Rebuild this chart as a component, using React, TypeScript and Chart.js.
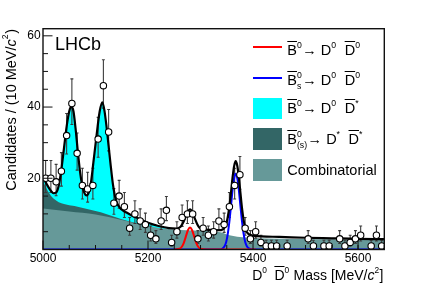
import React, { useEffect, useRef } from 'react';
import { Chart, registerables } from 'chart.js';
Chart.register(...registerables);

const FONT = "'Liberation Sans', Arial, Helvetica, sans-serif";

// ---- binned data (10 MeV bins) ----
const binMass = [5005, 5015, 5025, 5035, 5045, 5055, 5065, 5075, 5085, 5095, 5105, 5115, 5125, 5135, 5145, 5155, 5165, 5175, 5185, 5195, 5205, 5215, 5225, 5235, 5245, 5255, 5265, 5275, 5285, 5295, 5305, 5315, 5325, 5335, 5345, 5355, 5365, 5375, 5385, 5395, 5405, 5415, 5425, 5435, 5445, 5465, 5505, 5515, 5535, 5545, 5565, 5575, 5585, 5595, 5605, 5625, 5635, 5645];
const binCount = [20, 20, 19, 22, 32, 41, 27, 18, 17, 18, 31, 46, 33, 13, 15, 12, 6, 10, 8, 7, 4, 3, 8, 11, 2, 5, 9, 10, 10, 3, 6, 4, 5, 8, 7, 12, 18, 21, 6, 3, 5, 2, 1, 1, 1, 1, 3, 1, 1, 1, 3, 1, 2, 3, 4, 1, 4, 1];
const errLow = [4.0, 4.0, 3.9, 4.2, 5.2, 5.9, 4.7, 3.8, 3.7, 3.8, 5.1, 6.3, 5.3, 3.1, 3.4, 3.0, 2.0, 2.7, 2.4, 2.2, 1.6, 1.3, 2.4, 2.9, 1.0, 1.8, 2.5, 2.7, 2.7, 1.3, 2.0, 1.6, 1.8, 2.4, 2.2, 3.0, 3.8, 4.1, 2.0, 1.3, 1.8, 1.0, 0.6, 0.6, 0.6, 0.6, 1.3, 0.6, 0.6, 0.6, 1.3, 0.6, 1.0, 1.3, 1.6, 0.6, 1.6, 0.6];
const errHigh = [5.0, 5.0, 4.9, 5.2, 6.2, 6.9, 5.7, 4.8, 4.7, 4.8, 6.1, 7.3, 6.3, 4.1, 4.4, 4.0, 3.0, 3.7, 3.4, 3.2, 2.6, 2.3, 3.4, 3.9, 2.0, 2.8, 3.5, 3.7, 3.7, 2.3, 3.0, 2.6, 2.8, 3.4, 3.2, 4.0, 4.8, 5.1, 3.0, 2.3, 2.8, 2.0, 1.6, 1.6, 1.6, 1.6, 2.3, 1.6, 1.6, 1.6, 2.3, 1.6, 2.0, 2.3, 2.6, 1.6, 2.6, 1.6];

// ---- fit components (upper edges as drawn) ----
const combMass = [5000, 5025, 5050, 5075, 5100, 5125, 5150, 5175, 5200, 5225, 5250, 5275, 5300, 5325, 5340, 5355, 5370, 5400, 5450, 5500, 5550, 5600, 5650];
const combTop = [11.5, 11.1, 10.7, 10.3, 9.8, 9.1, 8.3, 7.4, 6.6, 6.0, 5.6, 5.4, 5.3, 5.1, 4.8, 4.0, 3.6, 3.25, 3.05, 2.95, 2.85, 2.75, 2.65];

const dstarMass = [5000, 5005, 5010, 5015, 5020, 5030, 5040, 5060, 5080, 5100, 5120, 5140, 5160, 5175, 5200];
const dstarTop = [19.3, 17.6, 16.2, 15.1, 14.3, 13.3, 12.8, 12.2, 11.5, 10.8, 10.0, 9.0, 8.1, 7.5, 6.6];

const cyanMass = [5000, 5005, 5010, 5015, 5020, 5025, 5030, 5035, 5040, 5045, 5050, 5054, 5058, 5062, 5066, 5070, 5074, 5078, 5083, 5088, 5092, 5096, 5100, 5104, 5108, 5113, 5117, 5121, 5125, 5129, 5133, 5137, 5141, 5146, 5152, 5160, 5170, 5185, 5200, 5220, 5240];
const cyanTop = [20.0, 18.9, 17.6, 16.5, 15.8, 16.0, 18.0, 22.5, 28.5, 34.5, 38.8, 40.1, 38.8, 34.0, 28.0, 22.5, 18.5, 16.2, 15.2, 16.4, 19.5, 24.5, 29.5, 34.5, 38.8, 41.3, 39.0, 34.5, 29.0, 23.5, 18.5, 15.0, 13.0, 11.8, 11.0, 10.3, 9.5, 8.5, 7.5, 6.4, 5.7];

const totalMass = [5000, 5005, 5010, 5015, 5020, 5025, 5030, 5035, 5040, 5045, 5050, 5054, 5058, 5062, 5066, 5070, 5074, 5078, 5083, 5088, 5092, 5096, 5100, 5104, 5108, 5113, 5117, 5121, 5125, 5129, 5133, 5137, 5141, 5146, 5152, 5160, 5170, 5185, 5200, 5220, 5240, 5255, 5262, 5266, 5270, 5274, 5277, 5280, 5283, 5286, 5290, 5294, 5298, 5305, 5320, 5335, 5342, 5346, 5349, 5352, 5355, 5358, 5361, 5364, 5367, 5370, 5373, 5376, 5379, 5382, 5385, 5388, 5392, 5400, 5450, 5500, 5550, 5600, 5650];
const totalFit = [20.0, 18.9, 17.6, 16.5, 15.8, 16.0, 18.0, 22.5, 28.5, 34.5, 38.8, 40.1, 38.8, 34.0, 28.0, 22.5, 18.5, 16.2, 15.2, 16.4, 19.5, 24.5, 29.5, 34.5, 38.8, 41.3, 39.0, 34.5, 29.0, 23.5, 18.5, 15.0, 13.0, 11.8, 11.0, 10.3, 9.5, 8.5, 7.5, 6.6, 6.0, 5.9, 6.4, 7.3, 8.6, 10.0, 10.9, 11.3, 10.9, 10.0, 8.4, 7.0, 6.1, 5.7, 5.5, 5.4, 5.6, 6.2, 7.2, 9.2, 12.2, 16.0, 20.2, 23.4, 24.8, 23.5, 20.2, 15.9, 11.6, 8.3, 6.1, 4.9, 4.3, 3.9, 3.55, 3.3, 3.15, 3.0, 2.9];

const b0Mass = [5250, 5260, 5264, 5268, 5272, 5276, 5280, 5284, 5288, 5292, 5296, 5300, 5310, 5405];
const b0Fit = [0, 0.2, 0.7, 1.8, 3.6, 5.4, 6.2, 5.4, 3.6, 1.8, 0.7, 0.2, 0, 0];

const bsMass = [5000, 5335, 5342, 5346, 5349, 5352, 5355, 5358, 5361, 5364, 5367, 5370, 5373, 5376, 5379, 5382, 5385, 5388, 5392, 5400, 5650];
const bsFit = [0, 0, 0.3, 1.0, 2.2, 4.5, 7.9, 12.2, 16.7, 20.0, 21.3, 20.0, 16.7, 12.2, 7.9, 4.5, 2.2, 1.0, 0.3, 0, 0];

// ---- axes ----
const xMajorTicks = [5000, 5200, 5400, 5600];
const xMinorTicks = [5050, 5100, 5150, 5250, 5300, 5350, 5450, 5500, 5550, 5600, 5650];
const yMajorTicks = [20, 40, 60];
const yMinorTicks = [5, 10, 15, 25, 30, 35, 45, 50, 55];

const CAP = 2.8;

const pts = (xs: number[], ys: number[]) => xs.map((x, i) => ({ x, y: ys[i] }));

const frameTicks = {
  id: 'frameTicks',
  afterDatasetsDraw(chart: any) {
    const { ctx, chartArea, scales } = chart;
    const { left, right, top, bottom } = chartArea;
    const x = scales.x, y = scales.y;
    ctx.save();
    ctx.strokeStyle = '#111';
    ctx.lineWidth = 1;
    ctx.beginPath();
    yMajorTicks.forEach((v) => { const p = y.getPixelForValue(v); ctx.moveTo(left, p); ctx.lineTo(left + 9.5, p); });
    yMinorTicks.forEach((v) => { const p = y.getPixelForValue(v); ctx.moveTo(left, p); ctx.lineTo(left + 5, p); });
    xMajorTicks.forEach((v) => { const p = x.getPixelForValue(v); ctx.moveTo(p, bottom); ctx.lineTo(p, bottom - 9); });
    xMinorTicks.forEach((v) => { const p = x.getPixelForValue(v); ctx.moveTo(p, bottom); ctx.lineTo(p, bottom - 4.5); });
    ctx.stroke();
    ctx.lineWidth = 1.4;
    ctx.strokeRect(left, top, right - left, bottom - top);
    ctx.restore();
  },
};

function Scripts({ f, sup, sub, supW = 0, subW = 0 }: any) {
  const s = f * 0.6;
  const w = Math.max(supW, subW) * s + 0.5;
  return (
    <span style={{ display: 'inline-block', position: 'relative', width: w, height: 0 }}>
      {sup ? (
        <span style={{ position: 'absolute', left: 0, bottom: f * 0.5 - 0.1535 * s, fontSize: s, lineHeight: `${s}px`, whiteSpace: 'nowrap' }}>{sup}</span>
      ) : null}
      {sub ? (
        <span style={{ position: 'absolute', left: 0, bottom: -f * 0.27 - 0.1535 * s, fontSize: s, lineHeight: `${s}px`, whiteSpace: 'nowrap' }}>{sub}</span>
      ) : null}
    </span>
  );
}

const Bar = ({ children, gap = 0 }: any) => (
  <span style={{ textDecoration: 'overline', textDecorationThickness: '1.2px', marginLeft: gap }}>{children}</span>
);

function Txt({ x, base, f, children, style }: any) {
  return (
    <div style={{ position: 'absolute', left: x, top: base - 0.8465 * f, fontSize: f, lineHeight: `${f}px`, whiteSpace: 'nowrap', ...style }}>
      {children}
    </div>
  );
}

const LF = 14.5;
const legendRows = [
  { kind: 'line', color: '#ff0000', y: 46.7, base: 55.5 },
  { kind: 'line', color: '#0000ff', y: 77.7, base: 85.5 },
  { kind: 'box', color: '#00ffff', y: 108.5, base: 113.5 },
  { kind: 'box', color: '#336666', y: 139.2, base: 144.5 },
  { kind: 'box', color: '#669999', y: 170, base: 175.5 },
];

export default function App() {
  const ref = useRef<HTMLCanvasElement>(null);
  useEffect(() => {
    document.body.style.margin = '0';
    const errData: any[] = [];
    binMass.forEach((m, i) => {
      const lo = binCount[i] - errLow[i];
      const hi = binCount[i] + errHigh[i];
      errData.push(
        { x: m, y: lo }, { x: m, y: hi }, { x: m, y: null },
        { x: m - CAP, y: hi }, { x: m + CAP, y: hi }, { x: m, y: null },
        { x: m - CAP, y: lo }, { x: m + CAP, y: lo }, { x: m, y: null },
      );
    });
    const chart = new Chart(ref.current as HTMLCanvasElement, {
      type: 'line',
      data: {
        datasets: [
          { data: pts(binMass, binCount), showLine: false, pointRadius: 3.2, pointBorderWidth: 1.1, pointBackgroundColor: '#ffffff', pointBorderColor: '#000000' },
          { data: pts(totalMass, totalFit), borderColor: '#000000', borderWidth: 2.2, pointRadius: 0, cubicInterpolationMode: 'monotone', fill: false },
          { data: pts(b0Mass, b0Fit), borderColor: '#ff0000', borderWidth: 2, pointRadius: 0, cubicInterpolationMode: 'monotone', fill: false },
          { data: pts(bsMass, bsFit), borderColor: '#0000ff', borderWidth: 2, pointRadius: 0, cubicInterpolationMode: 'monotone', fill: false },
          { data: errData, borderColor: '#3c3c3c', borderWidth: 1.1, pointRadius: 0, spanGaps: false, fill: false },
          { data: pts(combMass, combTop), borderWidth: 0, borderColor: 'transparent', backgroundColor: '#669999', pointRadius: 0, cubicInterpolationMode: 'monotone', fill: 'origin' },
          { data: pts(dstarMass, dstarTop), borderWidth: 0, borderColor: 'transparent', backgroundColor: '#336666', pointRadius: 0, cubicInterpolationMode: 'monotone', fill: 'origin' },
          { data: pts(cyanMass, cyanTop), borderWidth: 0, borderColor: 'transparent', backgroundColor: '#00ffff', pointRadius: 0, cubicInterpolationMode: 'monotone', fill: 'origin' },
        ] as any,
      },
      options: {
        responsive: false,
        devicePixelRatio: 1,
        animation: false,
        events: [],
        layout: { padding: { left: 0, top: 28.7, right: 42.7, bottom: 0 } },
        plugins: { legend: { display: false }, tooltip: { enabled: false } },
        scales: {
          x: {
            type: 'linear', min: 5000, max: 5650,
            afterBuildTicks: (s: any) => { s.ticks = xMajorTicks.map((v) => ({ value: v })); },
            afterFit: (s: any) => { s.height = 40.5; },
            grid: { display: false, drawTicks: false },
            border: { display: false },
            ticks: { font: { family: FONT, size: 12 }, color: '#000', padding: 2, maxRotation: 0, autoSkip: false, callback: (v: any) => String(v) },
          },
          y: {
            type: 'linear', min: 0, max: 62,
            afterBuildTicks: (s: any) => { s.ticks = yMajorTicks.map((v) => ({ value: v })); },
            afterFit: (s: any) => { s.width = 43; },
            grid: { display: false, drawTicks: false },
            border: { display: false },
            ticks: { font: { family: FONT, size: 12 }, color: '#000', padding: 2.3, callback: (v: any) => String(v) },
          },
        },
      } as any,
      plugins: [frameTicks],
    });
    return () => chart.destroy();
  }, []);

  return (
    <div style={{ position: 'relative', width: 427, height: 290, overflow: 'hidden', fontFamily: FONT, color: '#000', background: '#fff' }}>
      <canvas ref={ref} width={427} height={290} style={{ position: 'absolute', left: 0, top: 0, width: 427, height: 290 }} />

      <Txt x={55} base={50} f={18}>LHCb</Txt>

      {legendRows.map((r, i) =>
        r.kind === 'line' ? (
          <div key={'s' + i} style={{ position: 'absolute', left: 253.3, top: r.y - 1, width: 28.4, height: 2, background: r.color }} />
        ) : (
          <div key={'s' + i} style={{ position: 'absolute', left: 253.3, top: r.y - 10.8, width: 28.4, height: 21.6, background: r.color }} />
        ),
      )}
      <Txt x={287.3} base={legendRows[0].base} f={LF}>
        <Bar>B</Bar><Scripts f={LF} sup="0" supW={0.556} />→ D<Scripts f={LF} sup="0" supW={0.556} /> <Bar gap={4}>D</Bar><Scripts f={LF} sup="0" supW={0.556} />
      </Txt>
      <Txt x={287.3} base={legendRows[1].base} f={LF}>
        <Bar>B</Bar><Scripts f={LF} sup="0" sub="s" supW={0.556} subW={0.5} />→ D<Scripts f={LF} sup="0" supW={0.556} /> <Bar gap={4}>D</Bar><Scripts f={LF} sup="0" supW={0.556} />
      </Txt>
      <Txt x={287.3} base={legendRows[2].base} f={LF}>
        <Bar>B</Bar><Scripts f={LF} sup="0" supW={0.556} />→ D<Scripts f={LF} sup="0" supW={0.556} /> <Bar gap={4}>D</Bar><Scripts f={LF} sup="*" supW={0.389} />
      </Txt>
      <Txt x={287.3} base={legendRows[3].base} f={LF}>
        <Bar>B</Bar><Scripts f={LF} sup="0" sub="(s)" supW={0.556} subW={1.166} />→ D<Scripts f={LF} sup="*" supW={0.389} /> <Bar gap={4}>D</Bar><Scripts f={LF} sup="*" supW={0.389} />
      </Txt>
      <Txt x={287.3} base={legendRows[4].base} f={LF}>Combinatorial</Txt>

      <div style={{ position: 'absolute', right: 427 - 383.5, top: 280 - 0.8465 * 14, fontSize: 14, lineHeight: '14px', whiteSpace: 'nowrap' }}>
        D<Scripts f={14} sup="0" supW={0.556} /> <Bar gap={3}>D</Bar><Scripts f={14} sup="0" supW={0.556} /> Mass [MeV/<i>c</i><Scripts f={14} sup="2" supW={0.556} />]
      </div>

      <div style={{ position: 'absolute', left: 4.4, top: 229, width: 200, textAlign: 'right', transform: 'rotate(-90deg)', transformOrigin: '0 0', fontSize: 14.5, lineHeight: '14.5px', whiteSpace: 'nowrap' }}>
        Candidates / (10 MeV/<i>c</i><Scripts f={14.5} sup="2" supW={0.556} />)
      </div>
    </div>
  );
}
